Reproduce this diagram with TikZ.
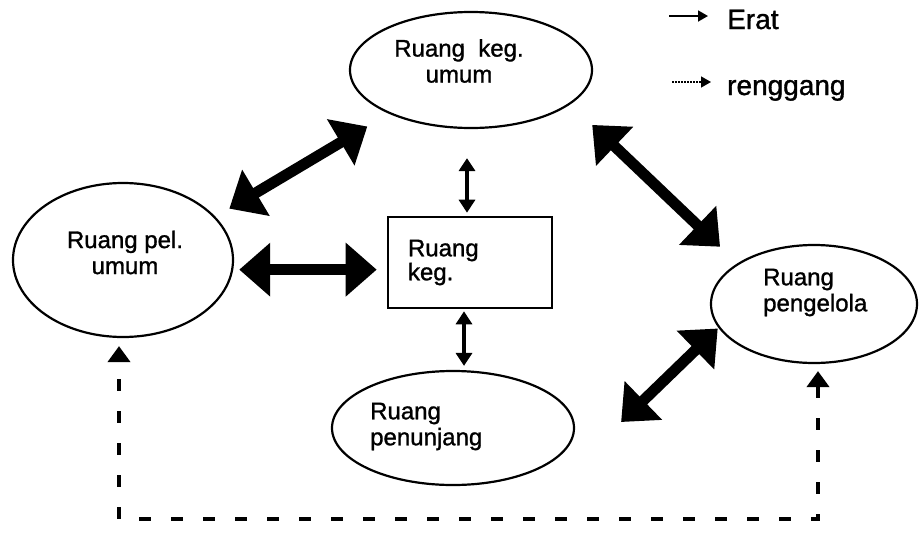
\documentclass[tikz,border=0pt]{standalone}
\usepackage{fontspec}
\setmainfont{Liberation Sans}[FakeBold=1.2]
\usetikzlibrary{calc}
\usetikzlibrary{arrows.meta}
\usetikzlibrary{shapes.geometric}
\tikzset{>=latex}
\tikzset{
  ruang/.style={draw, ellipse, line width=2.2pt, inner sep=0pt},
  teks/.style={font=\fontsize{24}{26}\selectfont, inner sep=0pt},
  ket/.style={font=\fontsize{28}{30}\selectfont, inner sep=0pt},
  tebal/.style={line width=11pt, {Triangle[length=31pt,width=52pt]}-{Triangle[length=31pt,width=52pt]}},
  tipis/.style={line width=3.5pt, {Triangle[length=13pt,width=16pt]}-{Triangle[length=13pt,width=16pt]}},
  putus/.style={line width=4.5pt, dash pattern=on 12pt off 20pt, {Triangle[length=16pt,width=22pt]}-{Triangle[length=16pt,width=22pt]}},
}

\begin{document}
\begin{tikzpicture}[x=1pt,y=-1pt]
    \useasboundingbox (0,0) rectangle (922,536);

    % RUANG
    \node[ruang, minimum width=242pt, minimum height=116pt] (kegum) at (471,70) {};
    \node[ruang, minimum width=220pt, minimum height=154pt] (pel) at (123,260) {};
    \node[ruang, minimum width=242pt, minimum height=114pt] (pen) at (453,428) {};
    \node[ruang, minimum width=206pt, minimum height=118pt] (pgl) at (814,304) {};
    \node[draw, line width=2.6pt, minimum width=164pt, minimum height=91pt,
          text width=124pt, inner xsep=20pt, align=left,
          font=\fontsize{24}{24}\selectfont] (keg) at (470,262.5) {Ruang\\keg.};

    % LABELS
    \node[teks, align=center] (tkegum) at (459,61) {Ruang\ \ keg.\\umum};
    \node[teks, align=center] (tpel) at (125,252.5) {Ruang pel.\\umum};
    \node[teks, align=left, anchor=west] (tpen) at (370,426.5) {Ruang\\penunjang};
    \node[teks, align=left, anchor=west] (tpgl) at (763,292.5) {Ruang\\pengelola};

    % ERAT
    \draw[tebal, shorten <=16pt, shorten >=25pt] (pel.25) -- (kegum.208);
    \draw[tebal, shorten <=6pt, shorten >=10pt] (pel.-5) -- (keg.west |- pel.-5);
    \draw[tebal, shorten <=30pt, shorten >=24pt] (kegum.-19) -- (pgl.152);
    \coordinate (penr) at ([shift={(46,-6)}]pen.east);
    \draw[tebal, shorten <=1pt] (pgl.194) -- (penr);
    \draw[tipis, shorten <=29pt, shorten >=3pt] ([xshift=-4pt]kegum.south) -- ([xshift=-4pt]kegum.south |- keg.north);
    \draw[tipis, shorten <=2pt, shorten >=4pt] ([xshift=-6pt]keg.south) -- ([xshift=-6pt]keg.south |- pen.north);

    % RENGGANG
    \coordinate (bawah) at (0,519);
    \draw[putus, shorten <=7pt, shorten >=8pt] ([xshift=4pt]pgl.south) -- ([xshift=4pt]pgl.south |- bawah)
        -| ([xshift=-4pt]pel.south);

    % KETERANGAN
    \node[ket, anchor=base west] (erat) at (727,29) {Erat};
    \node[ket, anchor=base west] (reng) at (727,95) {renggang};
    \draw[line width=1.8pt, -{Triangle[length=10pt,width=11pt]}]
        ([shift={(-58,-13)}]erat.base west) -- ([shift={(-19,-13)}]erat.base west);
    \draw[line width=1.5pt, dash pattern=on 1.5pt off 1.5pt, -{Triangle[length=10pt,width=11pt]}]
        ([shift={(-55,-13)}]reng.base west) -- ([shift={(-16,-13)}]reng.base west);
\end{tikzpicture}
\end{document}
